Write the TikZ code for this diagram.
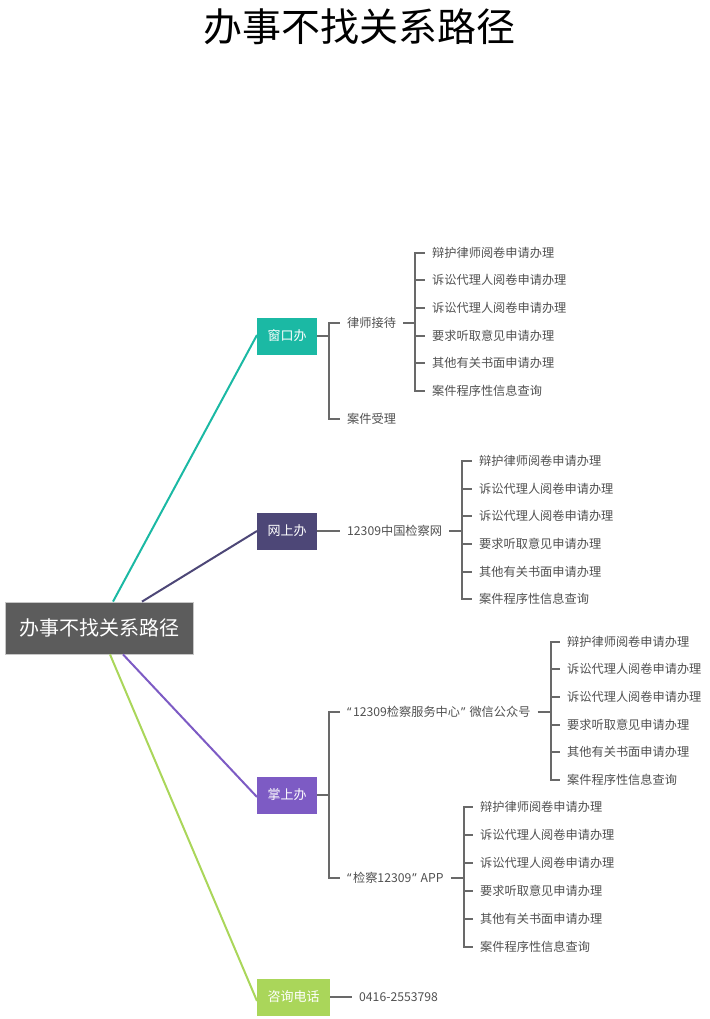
\documentclass[tikz,border=0pt]{standalone}
\usepackage{fontspec}
\setmainfont{Noto Sans CJK SC}
\newfontfamily\latinf{Noto Sans}
\definecolor{rootc}{RGB}{92,92,92}
\definecolor{tealc}{RGB}{27,185,164}
\definecolor{dpurp}{RGB}{77,71,119}
\definecolor{purp}{RGB}{125,91,196}
\definecolor{greenc}{RGB}{170,214,90}
\definecolor{txt}{RGB}{80,80,80}
\definecolor{linec}{RGB}{105,105,105}
\newcommand{\myopenq}{{\latinf “}\kern1.5pt}
\newcommand{\myclosq}{\kern1pt{\latinf ”}\kern4pt}
\tikzset{
  rootbox/.style={fill=rootc, draw=gray!45, line width=0.8pt, text=white, font=\fontsize{20}{20}\selectfont, inner xsep=14pt, minimum height=52pt},
  branch/.style={text=white, font=\fontsize{13}{13}\selectfont, inner xsep=10.5pt, minimum height=37pt, anchor=west},
  item/.style={text=txt, font=\fontsize{12.2}{12.2}\selectfont, inner xsep=7pt, inner ysep=2pt, anchor=west},
  br/.style={draw=linec, line width=1.6pt},
  rl/.style={line width=2pt}
}
\begin{document}
\begin{tikzpicture}[x=1pt,y=-1pt]
\useasboundingbox (0,0) rectangle (709,1019);
\node[font=\fontsize{39}{39}\selectfont] (title) at (359,27) {办事不找关系路径};
\node[rootbox] (root) at (99,628) {办事不找关系路径};
% branches
\node[branch, fill=tealc] (b1) at (257,336) {窗口办};
\node[branch, fill=dpurp] (b2) at (257,531) {网上办};
\node[branch, fill=purp] (b3) at (257,795) {掌上办};
\node[branch, fill=greenc] (b4) at (257,997) {咨询电话};
\draw[rl, tealc] ([xshift=14pt]root.north) -- ([yshift=1pt]b1.west);
\draw[rl, dpurp] ([xshift=43pt]root.north) -- (b2.west);
\draw[rl, purp] ([xshift=24pt]root.south) -- ([yshift=-2pt]b3.west);
\draw[rl, greenc] ([xshift=11pt]root.south) -- ([yshift=-4pt]b4.west);
% 窗口办
\node[item] (c1) at (340,323) {律师接待};
\node[item] (c2) at (340,419) {案件受理};
\coordinate (s1) at (329,336);
\draw[br] (b1.east) -- (s1);
\draw[br] (s1) |- (c1.west);
\draw[br] (s1) |- (c2.west);
\node[item] (c1a) at (425,253) {辩护律师阅卷申请办理};
\node[item] (c1b) at (425,280) {诉讼代理人阅卷申请办理};
\node[item] (c1c) at (425,308) {诉讼代理人阅卷申请办理};
\node[item] (c1d) at (425,336) {要求听取意见申请办理};
\node[item] (c1e) at (425,363) {其他有关书面申请办理};
\node[item] (c1f) at (425,391) {案件程序性信息查询};
\coordinate (s1a) at (415,323);
\draw[br] (c1.east) -- (s1a);
\foreach \n in {c1a,c1b,c1c,c1d,c1e,c1f} \draw[br] (s1a) |- (\n.west);
% 网上办
\node[item] (w1) at (340,531) {12309中国检察网};
\draw[br] (b2.east) -- (w1.west);
\node[item] (w1a) at (472,461) {辩护律师阅卷申请办理};
\node[item] (w1b) at (472,489) {诉讼代理人阅卷申请办理};
\node[item] (w1c) at (472,516) {诉讼代理人阅卷申请办理};
\node[item] (w1d) at (472,544) {要求听取意见申请办理};
\node[item] (w1e) at (472,572) {其他有关书面申请办理};
\node[item] (w1f) at (472,599) {案件程序性信息查询};
\coordinate (s2) at (462,531);
\draw[br] (w1.east) -- (s2);
\foreach \n in {w1a,w1b,w1c,w1d,w1e,w1f} \draw[br] (s2) |- (\n.west);
% 掌上办
\node[item] (z1) at (340,712) {\myopenq 12309检察服务中心\myclosq 微信公众号};
\node[item] (z2) at (340,878) {\myopenq 检察12309\myclosq APP};
\coordinate (s3) at (329,795);
\draw[br] (b3.east) -- (s3);
\draw[br] (s3) |- (z1.west);
\draw[br] (s3) |- (z2.west);
\node[item] (z1a) at (560,642) {辩护律师阅卷申请办理};
\node[item] (z1b) at (560,669) {诉讼代理人阅卷申请办理};
\node[item] (z1c) at (560,697) {诉讼代理人阅卷申请办理};
\node[item] (z1d) at (560,725) {要求听取意见申请办理};
\node[item] (z1e) at (560,752) {其他有关书面申请办理};
\node[item] (z1f) at (560,780) {案件程序性信息查询};
\coordinate (s3a) at (551,712);
\draw[br] (z1.east) -- (s3a);
\foreach \n in {z1a,z1b,z1c,z1d,z1e,z1f} \draw[br] (s3a) |- (\n.west);
\node[item] (z2a) at (473,807) {辩护律师阅卷申请办理};
\node[item] (z2b) at (473,835) {诉讼代理人阅卷申请办理};
\node[item] (z2c) at (473,863) {诉讼代理人阅卷申请办理};
\node[item] (z2d) at (473,891) {要求听取意见申请办理};
\node[item] (z2e) at (473,919) {其他有关书面申请办理};
\node[item] (z2f) at (473,947) {案件程序性信息查询};
\coordinate (s3b) at (464,878);
\draw[br] (z2.east) -- (s3b);
\foreach \n in {z2a,z2b,z2c,z2d,z2e,z2f} \draw[br] (s3b) |- (\n.west);
% 咨询电话
\node[item] (p1) at (352,997) {0416-2553798};
\draw[br] (b4.east) -- (p1.west);
\end{tikzpicture}
\end{document}
